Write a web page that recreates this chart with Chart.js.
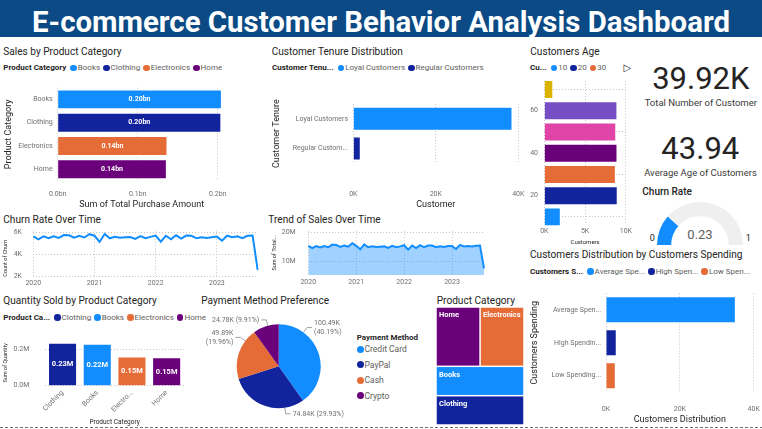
<!DOCTYPE html>
<html><head><meta charset="utf-8">
<script src="https://cdn.jsdelivr.net/npm/chart.js@4.4.1/dist/chart.umd.min.js"></script>
<style>
html,body{margin:0;padding:0;background:#fff;}
body{position:relative;width:762px;height:429px;overflow:hidden;font-family:Roboto,'Noto Sans',sans-serif;}
#banner{position:absolute;left:0;top:0;width:762px;height:37px;background:#0b4a84;}
#bt{position:absolute;left:31.6px;top:5px;font-size:29px;line-height:35px;font-weight:700;color:#fff;white-space:nowrap;transform-origin:0 50%;}
.dash{position:absolute;left:0;top:427px;width:762px;height:1px;background:repeating-linear-gradient(90deg,#707070 0 3px,transparent 3px 5px);}
</style></head><body>
<div id="banner"><div id="bt">E-commerce Customer Behavior Analysis Dashboard</div></div>
<div class="dash"></div>
<script>
// ---------------- DATA ----------------
const salesCategories = ['Books', 'Clothing', 'Electronics', 'Home'];
const salesAmountBn = [0.204, 0.2033, 0.136, 0.1352];
const salesAxisTicks = [0, 0.1, 0.2];

const tenureCategories = ['Loyal Customers', 'Regular Customers'];
const tenureCustomers = [38350, 1570];
const tenureAxisTicks = [0, 20000, 40000];

const ageBins = [10, 20, 30, 40, 50, 60, 70];
const ageCustomers = [1900, 8880, 8650, 8850, 8700, 8840, 980];
const ageValueTicks = [0, 5000, 10000];
const ageBinTicks = [20, 40, 60];

const totalCustomersK = 39.92;
const averageAge = 43.94;
const churnRate = 0.23;

const monthLabels = [];
for (let y = 2020; y <= 2023; y++) for (let m = 1; m <= 12; m++) if (!(y === 2023 && m > 9)) monthLabels.push(y + '-' + String(m).padStart(2, '0'));

const churnCounts = [
  5650, 5380, 5640, 5470, 5640, 5500, 5760, 5740, 5520, 5690, 5540, 5840,
  5700, 5150, 5860, 5470, 5600, 5510, 5570, 5590, 5420, 5660, 5480, 5600,
  5720, 5160, 5700, 5380, 5740, 5450, 5720, 5690, 5470, 5560, 5500, 5570,
  5620, 5250, 5700, 5570, 5640, 5480, 5690, 5710, 2600];
const churnTicks = [2000, 4000, 6000];

const salesTrendM = [
  15.4, 14.6, 15.3, 14.8, 15.3, 14.9, 15.8, 15.7, 15.0, 15.5, 15.1, 16.3,
  15.4, 14.2, 15.9, 14.9, 15.2, 15.0, 15.1, 15.2, 14.7, 15.4, 14.9, 15.2,
  15.6, 14.1, 15.5, 14.6, 15.6, 14.9, 15.5, 15.5, 14.9, 15.2, 15.0, 15.3,
  15.3, 14.3, 15.7, 15.2, 15.3, 15.2, 15.4, 15.5, 7.7];
const salesTrendTicks = [10, 20];

const qtyCategories = ['Clothing', 'Books', 'Electronics', 'Home'];
const qtySold = [228500, 223500, 153500, 150500];
const qtyTicks = [0, 200000];

const paymentMethods = ['Credit Card', 'PayPal', 'Cash', 'Crypto'];
const paymentAmounts = [100487, 74836, 49894, 24784];

const treemapCategories = ['Home', 'Electronics', 'Books', 'Clothing'];
const treemapCustomers = [10050, 10020, 9930, 9920];

const spendingCategories = ['Average Spending Customers', 'High Spending Customers', 'Low Spending Customers'];
const spendingCustomers = [34900, 2640, 2380];
const spendingTicks = [0, 20000, 40000];

// ---------------- STYLE ----------------
const FONT = "Roboto, 'Noto Sans', sans-serif";
const BLUE = '#118DFF', NAVY = '#12239E', ORANGE = '#E66C37', PURPLE = '#6B007B',
      PINK = '#E044A7', VIOLET = '#744EC2', YELLOW = '#D9B300';
const TXT = '#252423', SUB = '#605E5C', TICK = '#6f6f6f', GRID = '#C8C6C4', NONE = 'rgba(0,0,0,0)';
const catColor = {Books: BLUE, Clothing: NAVY, Electronics: ORANGE, Home: PURPLE};

Chart.defaults.font.family = FONT;
Chart.defaults.color = TICK;
Chart.defaults.animation = false;
Chart.defaults.responsive = false;
Chart.defaults.plugins.legend.display = false;
Chart.defaults.plugins.tooltip.enabled = false;

// ---------------- HELPERS ----------------
function canvasAt(L, T, W, H) {
  const c = document.createElement('canvas');
  c.width = W; c.height = H;
  c.style.cssText = `position:absolute;left:${L}px;top:${T}px;width:${W}px;height:${H}px;`;
  document.body.appendChild(c);
  return c;
}
function box(L, T, W, H, a, b, c, d) {
  return {canvas: canvasAt(L, T, W, H), yw: a - L, xh: T + H - d,
    layout: {autoPadding: false, padding: {left: 0, top: b - T, right: L + W - c, bottom: 0}}};
}
// gap = distance between chart area edge and tick label (done with an invisible tick mark)
function axis(o) {
  const cfg = {
    type: o.type || 'linear',
    afterFit: s => { if (o.horizontal) s.height = o.size; else s.width = o.size; },
    grid: {display: true, color: o.gridColor || GRID, drawTicks: true, tickLength: o.gap || 0, tickColor: NONE, lineWidth: 1},
    border: {display: false, dash: [1, 2]},
    ticks: Object.assign({font: {size: 7}, color: TICK, padding: 0, autoSkip: false, maxRotation: 0, minRotation: 0}, o.ticks || {}),
    title: o.title ? {display: true, text: o.title, color: TXT, align: o.titleAlign || 'center',
      font: {size: o.titleSize || 9}, padding: o.titlePad || {top: 0, bottom: 0}} : {display: false}
  };
  if (o.min !== undefined) cfg.min = o.min;
  if (o.max !== undefined) cfg.max = o.max;
  if (o.offset !== undefined) cfg.offset = o.offset;
  if (o.tickValues) cfg.afterBuildTicks = s => { s.ticks = o.tickValues.map(v => ({value: v})); };
  return cfg;
}
function trunc(s, n) { return s.length <= n + 1 ? s : s.slice(0, n) + '...'; }
function text(str, x, y, size, color, opts = {}) {
  const d = document.createElement('div');
  d.textContent = str;
  const lh = size * 1.2;
  d.style.cssText = `position:absolute;white-space:nowrap;font-size:${size}px;line-height:${lh}px;color:${color};top:${y - lh / 2}px;font-weight:${opts.weight || 400};font-family:${opts.family || FONT};`;
  if (opts.align === 'center') { d.style.left = x + 'px'; d.style.transform = 'translateX(-50%)'; }
  else d.style.left = x + 'px';
  document.body.appendChild(d);
  return d;
}
function legendRow(x, y, title, labels, colors, size = 8) {
  const d = document.createElement('div');
  d.style.cssText = `position:absolute;left:${x}px;top:${y - size * 0.6}px;height:${size * 1.2}px;display:flex;align-items:center;white-space:nowrap;font-size:${size}px;line-height:${size * 1.2}px;`;
  const t = document.createElement('span');
  t.textContent = title; t.style.cssText = `font-weight:700;color:${TXT};margin-right:4px;`;
  d.appendChild(t);
  labels.forEach((l, i) => {
    const dot = document.createElement('span');
    dot.style.cssText = `display:inline-block;width:6.5px;height:6.5px;border-radius:50%;background:${colors[i]};margin-right:1px;`;
    d.appendChild(dot);
    const s = document.createElement('span');
    s.textContent = l; s.style.cssText = `color:${SUB};margin-right:3px;`;
    d.appendChild(s);
  });
  document.body.appendChild(d);
}
function valueLabels(fmt, font) {
  return {id: 'valueLabels', afterDatasetsDraw(chart) {
    const ctx = chart.ctx;
    chart.data.datasets.forEach((ds, di) => {
      chart.getDatasetMeta(di).data.forEach((el, i) => {
        const p = el.getProps(['x', 'y', 'base', 'horizontal'], true);
        const cx = p.horizontal ? (p.x + p.base) / 2 : p.x;
        const cy = p.horizontal ? p.y : (p.y + p.base) / 2;
        ctx.save();
        ctx.fillStyle = '#fff'; ctx.font = font; ctx.textAlign = 'center'; ctx.textBaseline = 'middle';
        ctx.fillText(fmt(ds.data[i]), cx, cy);
        ctx.restore();
      });
    });
  }};
}

// ---------------- BANNER ----------------
(function () {
  const bt = document.getElementById('bt');
  const w = bt.getBoundingClientRect().width;
  bt.style.transform = `scaleX(${698 / w})`;
})();

// ---------------- TITLES ----------------
const TS = 10.1;
text('Sales by Product Category', 3.3, 51.7, TS, TXT);
text('Customer Tenure Distribution', 271.7, 51.7, TS, TXT);
text('Customers Age', 530.3, 51.7, TS, TXT);
text('Churn Rate Over Time', 3.3, 220, TS, TXT);
text('Trend of Sales Over Time', 268.3, 220, TS, TXT);
text('Quantity Sold by Product Category', 3.3, 300.7, TS, TXT);
text('Payment Method Preference', 201.3, 300.7, TS, TXT);
text('Product Category', 436.7, 301.3, TS, TXT);
text('Customers Distribution by Customers Spending', 530, 255, TS, TXT);
text('Churn Rate', 642.3, 192.3, 10, TXT, {weight: 500});

// ---------------- LEGENDS ----------------
legendRow(3.3, 68, 'Product Category', salesCategories, salesCategories.map(c => catColor[c]));
legendRow(272, 68, 'Customer Tenu...', tenureCategories, [BLUE, NAVY]);
legendRow(530, 68, 'Cu...', ageBins.slice(0, 3).map(String), [BLUE, NAVY, ORANGE]);
text('\u25B7', 623.5, 68, 10, TXT, {weight: 700, family: "'DejaVu Sans'"});
legendRow(3.3, 317.3, 'Product Ca...', qtyCategories, qtyCategories.map(c => catColor[c]));
legendRow(530, 271.7, 'Customers S...', ['Average Spe...', 'High Spen...', 'Low Spen...'], [BLUE, NAVY, ORANGE]);
(function () {
  text('Payment Method', 356.7, 337.3, 8, TXT, {weight: 700});
  const cols = [BLUE, NAVY, ORANGE, PURPLE];
  paymentMethods.forEach((m, i) => {
    const y = 349.3 + i * 15.45;
    const dot = document.createElement('div');
    dot.style.cssText = `position:absolute;left:356.5px;top:${y - 3.5}px;width:7px;height:7px;border-radius:50%;background:${cols[i]};`;
    document.body.appendChild(dot);
    text(m, 364.5, y, 8.5, SUB);
  });
})();

// ---------------- KPI CARDS ----------------
text(totalCustomersK.toFixed(2) + 'K', 700.8, 78.7, 31, TXT, {align: 'center'});
text('Total Number of Customer', 700.8, 102.7, 9.5, '#3b3a39', {align: 'center'});
text(averageAge.toFixed(2), 700.3, 148.3, 31, TXT, {align: 'center'});
text('Average Age of Customers', 700.5, 172.7, 9.5, '#3b3a39', {align: 'center'});
text('0', 652.3, 238.3, 9, TXT, {align: 'center'});
text('1', 748.3, 238.3, 9, TXT, {align: 'center'});
text(churnRate.toFixed(2), 700, 234.3, 13, SUB, {align: 'center'});

// ---------------- 1. SALES BY PRODUCT CATEGORY ----------------
(function () {
  const B = box(0, 76, 265, 134, 57.7, 87.7, 225.7, 181);
  new Chart(B.canvas, {
    type: 'bar',
    data: {labels: salesCategories, datasets: [{data: salesAmountBn,
      backgroundColor: salesCategories.map(c => catColor[c]), barPercentage: 0.77, categoryPercentage: 1}]},
    options: {indexAxis: 'y', layout: B.layout, scales: {
      x: axis({horizontal: true, size: B.xh, gap: 8.8, min: 0, max: 0.21, tickValues: salesAxisTicks,
        ticks: {callback: v => v.toFixed(1) + 'bn'}, title: 'Sum of Total Purchase Amount'}),
      y: axis({type: 'category', size: B.yw, gap: 5, gridColor: NONE,
        title: 'Product Category', titlePad: {top: 3.6, bottom: 0}})
    }},
    plugins: [valueLabels(v => v.toFixed(2) + 'bn', `bold 7px ${FONT}`)]
  });
})();

// ---------------- 2. CUSTOMER TENURE ----------------
(function () {
  const B = box(265, 76, 265, 134, 353.3, 104, 518.3, 163.4);
  new Chart(B.canvas, {
    type: 'bar',
    data: {labels: tenureCategories, datasets: [{data: tenureCustomers,
      backgroundColor: [BLUE, NAVY], barPercentage: 0.74, categoryPercentage: 1}]},
    options: {indexAxis: 'y', layout: B.layout, scales: {
      x: axis({horizontal: true, size: B.xh, gap: 26.7, min: 0, max: 40000, tickValues: tenureAxisTicks,
        ticks: {callback: v => (v / 1000) + 'K'}, title: 'Customer', titlePad: {top: 0, bottom: 0.3}}),
      y: axis({type: 'category', size: B.yw, gap: 5.3, gridColor: NONE,
        ticks: {callback(v) { return trunc(this.getLabelForValue(v), 14); }},
        title: 'Customer Tenure', titlePad: {top: 6.3, bottom: 0}})
    }}
  });
})();

// ---------------- 3. CUSTOMERS AGE ----------------
(function () {
  const B = box(522, 76, 110, 170, 544.3, 80.95, 630.7, 225.45);
  new Chart(B.canvas, {
    type: 'bar',
    data: {datasets: [{data: ageBins.map((b, i) => ({x: ageCustomers[i], y: b})),
      backgroundColor: [BLUE, NAVY, ORANGE, PURPLE, PINK, VIOLET, YELLOW], barPercentage: 0.8, categoryPercentage: 1}]},
    options: {indexAxis: 'y', layout: B.layout, scales: {
      x: axis({horizontal: true, size: B.xh, gap: 2.05, min: 0, max: 10000, tickValues: ageValueTicks,
        ticks: {callback: v => (v / 1000) + 'K'}, title: 'Customers', titleSize: 6, titlePad: {top: 0, bottom: 0.4}}),
      y: axis({size: B.yw, gap: 6.3, min: 6, max: 74, offset: false, tickValues: ageBinTicks})
    }}
  });
})();

// ---------------- 4. CHURN GAUGE ----------------
new Chart(canvasAt(657, 202, 86, 43), {
  type: 'doughnut',
  data: {datasets: [{data: [churnRate, 1 - churnRate], backgroundColor: [BLUE, '#EFEFEF'], borderWidth: 0}]},
  options: {circumference: 180, rotation: -90, cutout: '67%', layout: {padding: 0}}
});

// ---------------- 5. CHURN RATE OVER TIME ----------------
function yearTick(v) { const l = monthLabels[v]; return l.endsWith('-01') ? l.slice(0, 4) : ''; }
const yearGrid = c => (c.tick && c.tick.label) ? GRID : NONE;
(function () {
  const B = box(0, 226, 265, 63, 33.3, 229.45, 257.7, 276.7);
  new Chart(B.canvas, {
    type: 'line',
    data: {labels: monthLabels, datasets: [{data: churnCounts, borderColor: BLUE, borderWidth: 2,
      pointRadius: 0, tension: 0, fill: false}]},
    options: {layout: B.layout, scales: {
      x: axis({type: 'category', horizontal: true, size: B.xh, gap: 2.4, offset: false, gridColor: yearGrid,
        ticks: {callback: yearTick}}),
      y: axis({size: B.yw, gap: 11.3, min: 2000, max: 6200, tickValues: churnTicks,
        ticks: {callback: v => (v / 1000) + 'K'},
        title: 'Count of Churn', titleSize: 5.5, titleAlign: 'start', titlePad: {top: 2, bottom: 0}})
    }}
  });
})();

// ---------------- 6. TREND OF SALES OVER TIME ----------------
(function () {
  const B = box(265, 226, 265, 63, 308.3, 230.8, 484, 274.9);
  new Chart(B.canvas, {
    type: 'line',
    data: {labels: monthLabels, datasets: [{data: salesTrendM, borderColor: BLUE, borderWidth: 2,
      pointRadius: 0, tension: 0, fill: 'start', backgroundColor: 'rgba(17,141,255,0.4)'}]},
    options: {layout: B.layout, scales: {
      x: axis({type: 'category', horizontal: true, size: B.xh, gap: 3.2, offset: false, gridColor: yearGrid,
        ticks: {callback: yearTick}}),
      y: axis({size: B.yw, gap: 12.6, min: 5.5, max: 20.5, tickValues: salesTrendTicks,
        ticks: {callback: v => v + 'M'},
        title: trunc('Sum of Total Purchase Amount', 12), titleSize: 5.5, titlePad: {top: 6.7, bottom: 0}})
    }}
  });
})();

// ---------------- 7. QUANTITY SOLD ----------------
(function () {
  const B = box(0, 330, 200, 97, 45.2, 339.9, 184, 385.7);
  new Chart(B.canvas, {
    type: 'bar',
    data: {labels: qtyCategories, datasets: [{data: qtySold,
      backgroundColor: qtyCategories.map(c => catColor[c]), barPercentage: 0.78, categoryPercentage: 1}]},
    options: {layout: B.layout, scales: {
      x: axis({type: 'category', horizontal: true, size: B.xh, gap: 3, gridColor: NONE,
        ticks: {minRotation: 45, maxRotation: 45, callback(v) { return trunc(this.getLabelForValue(v), 7); }},
        title: 'Product Category', titleSize: 6.5, titlePad: {top: 0, bottom: 1.1}}),
      y: axis({size: B.yw, gap: 15.9, min: 0, max: 250000, tickValues: qtyTicks,
        ticks: {callback: v => (v / 1e6).toFixed(1) + 'M'},
        title: 'Sum of Quantity', titleSize: 5.5, titlePad: {top: 2, bottom: 0}})
    }},
    plugins: [valueLabels(v => (v / 1e6).toFixed(2) + 'M', `bold 7.5px ${FONT}`)]
  });
})();

// ---------------- 8. PAYMENT METHOD PIE ----------------
function pieLabels(anchorFractions) {
  return {id: 'pieLabels', afterDatasetsDraw(chart) {
    const ctx = chart.ctx, vals = chart.data.datasets[0].data;
    const total = vals.reduce((a, b) => a + b, 0);
    chart.getDatasetMeta(0).data.forEach((arc, i) => {
      const p = arc.getProps(['x', 'y', 'startAngle', 'endAngle', 'outerRadius'], true);
      const a = p.startAngle + (p.endAngle - p.startAngle) * anchorFractions[i];
      const cs = Math.cos(a), sn = Math.sin(a);
      const sx = p.x + cs * p.outerRadius, sy = p.y + sn * p.outerRadius;
      const ex = p.x + cs * (p.outerRadius + 6), ey = p.y + sn * (p.outerRadius + 6);
      const dir = cs >= 0 ? 1 : -1, hx = ex + dir * 5;
      ctx.save();
      ctx.strokeStyle = '#A19F9D'; ctx.lineWidth = 1;
      ctx.beginPath(); ctx.moveTo(sx, sy); ctx.lineTo(ex, ey); ctx.lineTo(hx, ey); ctx.stroke();
      ctx.fillStyle = TICK; ctx.font = `7px ${FONT}`;
      ctx.textAlign = dir > 0 ? 'left' : 'right'; ctx.textBaseline = 'middle';
      const v = (vals[i] / 1000).toFixed(2) + 'K', pc = '(' + (vals[i] / total * 100).toFixed(2) + '%)';
      const tx = hx + dir * 2;
      if (Math.abs(cs) < 0.4) ctx.fillText(v + ' ' + pc, tx, ey);
      else { ctx.fillText(v, tx, ey - 4.5); ctx.fillText(pc, tx, ey + 4.5); }
      ctx.restore();
    });
  }};
}
new Chart(canvasAt(200, 312, 155, 110), {
  type: 'pie',
  data: {labels: paymentMethods, datasets: [{data: paymentAmounts,
    backgroundColor: [BLUE, NAVY, ORANGE, PURPLE], borderWidth: 0}]},
  options: {layout: {autoPadding: false, padding: {left: 36.7, top: 12.3, right: 34.3, bottom: 13.7}}},
  plugins: [pieLabels([0.25, 0.25, 0.76, 0.58])]
});

// ---------------- 9. TREEMAP ----------------
function squarify(values, x0, y0, x1, y1, ratio) {
  let value = values.reduce((a, b) => a + b, 0);
  const out = [], n = values.length;
  let i0 = 0, i1 = 0;
  while (i0 < n) {
    const dx = x1 - x0, dy = y1 - y0;
    let sum = values[i1++], minV = sum, maxV = sum;
    const alpha = Math.max(dy / dx, dx / dy) / (value * ratio);
    let beta = sum * sum * alpha;
    let minRatio = Math.max(maxV / beta, beta / minV);
    for (; i1 < n; ++i1) {
      const nv = values[i1];
      sum += nv; minV = Math.min(minV, nv); maxV = Math.max(maxV, nv);
      beta = sum * sum * alpha;
      const r = Math.max(maxV / beta, beta / minV);
      if (r > minRatio) { sum -= nv; break; }
      minRatio = r;
    }
    if (dx < dy) {
      const yb = y0 + dy * sum / value; let x = x0;
      for (let k = i0; k < i1; k++) { const w = dx * values[k] / sum; out.push({k, x0: x, y0, x1: x + w, y1: yb}); x += w; }
      y0 = yb;
    } else {
      const xb = x0 + dx * sum / value; let y = y0;
      for (let k = i0; k < i1; k++) { const h = dy * values[k] / sum; out.push({k, x0, y0: y, x1: xb, y1: y + h}); y += h; }
      x0 = xb;
    }
    value -= sum; i0 = i1;
  }
  return out;
}
function treemapPlugin(labels, values) {
  return {id: 'treemap', afterDatasetsDraw(chart) {
    const xs = chart.scales.x, ys = chart.scales.y, ctx = chart.ctx;
    const order = values.map((v, i) => i).sort((p, q) => values[q] - values[p]);
    const rects = squarify(order.map(i => values[i]), xs.getPixelForValue(0), ys.getPixelForValue(0),
      xs.getPixelForValue(1), ys.getPixelForValue(1), (1 + Math.sqrt(5)) / 2);
    rects.forEach(r => {
      const idx = order[r.k];
      ctx.save();
      ctx.fillStyle = catColor[labels[idx]];
      ctx.fillRect(r.x0 + 0.75, r.y0 + 0.75, r.x1 - r.x0 - 1.5, r.y1 - r.y0 - 1.5);
      ctx.fillStyle = '#fff'; ctx.font = `bold 7.5px ${FONT}`; ctx.textAlign = 'left'; ctx.textBaseline = 'middle';
      ctx.fillText(labels[idx], r.x0 + 3, r.y0 + 8.5);
      ctx.restore();
    });
  }};
}
new Chart(canvasAt(436, 307, 88, 118), {
  type: 'scatter',
  data: {datasets: [{data: []}]},
  options: {layout: {autoPadding: false, padding: 0}, scales: {
    x: {type: 'linear', min: 0, max: 1, display: false},
    y: {type: 'linear', min: 0, max: 1, reverse: true, display: false}
  }},
  plugins: [treemapPlugin(treemapCategories, treemapCustomers)]
});

// ---------------- 10. CUSTOMERS DISTRIBUTION BY SPENDING ----------------
(function () {
  const B = box(525, 282, 237, 145, 606, 293.4, 753.7, 392.1);
  new Chart(B.canvas, {
    type: 'bar',
    data: {labels: spendingCategories, datasets: [{data: spendingCustomers,
      backgroundColor: [BLUE, NAVY, ORANGE], barPercentage: 0.76, categoryPercentage: 1}]},
    options: {indexAxis: 'y', layout: B.layout, scales: {
      x: axis({horizontal: true, size: B.xh, gap: 13, min: 0, max: 40000, tickValues: spendingTicks,
        ticks: {callback: v => (v / 1000) + 'K'}, title: 'Customers Distribution', titlePad: {top: 0, bottom: 1.6}}),
      y: axis({type: 'category', size: B.yw, gap: 5, gridColor: NONE,
        ticks: {callback(v) { return trunc(this.getLabelForValue(v), 12); }},
        title: 'Customers Spending', titlePad: {top: 4.6, bottom: 0}})
    }}
  });
})();
</script>
</body></html>
